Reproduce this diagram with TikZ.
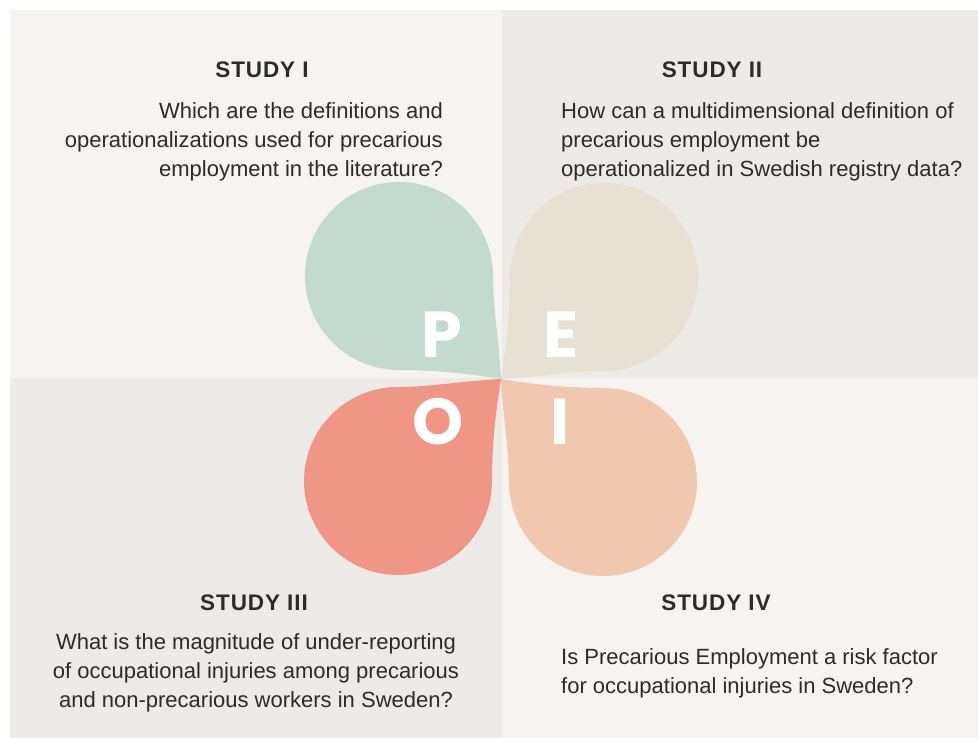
\documentclass[tikz,border=0pt]{standalone}
\usepackage{fontspec}
\setmainfont{Liberation Sans}
\newfontfamily\headfont{Liberation Sans}[LetterSpace=4]
\newfontfamily\petalfont{Poppins}
\definecolor{bglight}{HTML}{F6F3F0}
\definecolor{bgdark}{HTML}{EEEAE7}
\definecolor{petalgreen}{HTML}{C3DACF}
\definecolor{petalbeige}{HTML}{E6E0D5}
\definecolor{petalred}{HTML}{F09686}
\definecolor{petalpeach}{HTML}{EFC8AF}
\definecolor{ink}{HTML}{2B2B2B}
\tikzset{
  petal/.pic={
    \fill[pic actions] (0,0) .. controls (-2,40) and (-8,70) .. (-8,103)
      arc[start angle=0, end angle=270, radius=94pt]
      .. controls (-55,9) and (-20,3) .. cycle;
  },
  heading/.style={font=\headfont\bfseries\fontsize{22.5}{29}\selectfont, text=ink, inner sep=0pt, anchor=base},
  question/.style={font=\fontsize{22}{29}\selectfont, text=ink, inner sep=0pt},
  letter/.style={font=\petalfont\bfseries\fontsize{65}{65}\selectfont, text=white, inner sep=0pt}
}
\begin{document}
\begin{tikzpicture}[x=1pt, y=1pt]
  \useasboundingbox (0,0) rectangle (978,738);
  \fill[white] (0,0) rectangle (978,738);
  % four background quadrants
  \fill[bglight] (10,360) rectangle (502,728);
  \fill[bgdark]  (502,360) rectangle (978,728);
  \fill[bgdark]  (10,0) rectangle (502,360);
  \fill[bglight] (502,0) rectangle (978,360);

  % four-leaf flower around the centre
  \coordinate (c) at (501,359);
  \pic[fill=petalgreen] at (c) {petal};
  \pic[fill=petalbeige, rotate=-90] at (c) {petal};
  \pic[fill=petalpeach, rotate=180] at (c) {petal};
  \pic[fill=petalred, rotate=90] at (c) {petal};

  \node[letter] (p) at (442,403) {P};
  \node[letter] (e) at (561,403) {E};
  \node[letter] (o) at (438,316) {O};
  \node[letter] (i) at (560.5,316) {I};

  % study headings
  \node[heading] (h1) at (262,660) {STUDY I};
  \node[heading] (h2) at (712,660) {STUDY II};
  \node[heading] (h3) at (254,127) {STUDY III};
  \node[heading] (h4) at (716,127) {STUDY IV};

  % research questions (base = baseline of the last line)
  \node[question, align=right, anchor=base east] (q1) at (443,561)
    {Which are the definitions and\\operationalizations used for precarious\\employment in the literature?};
  \node[question, align=left, anchor=base west] (q2) at (561,561)
    {How can a multidimensional definition of\\precarious employment be\\operationalized in Swedish registry data?};
  \node[question, align=center, anchor=base] (q3) at (256,30)
    {What is the magnitude of under-reporting\\of occupational injuries among precarious\\and non-precarious workers in Sweden?};
  \node[question, align=left, anchor=base west] (q4) at (561,44)
    {Is Precarious Employment a risk factor\\for occupational injuries in Sweden?};
\end{tikzpicture}
\end{document}
